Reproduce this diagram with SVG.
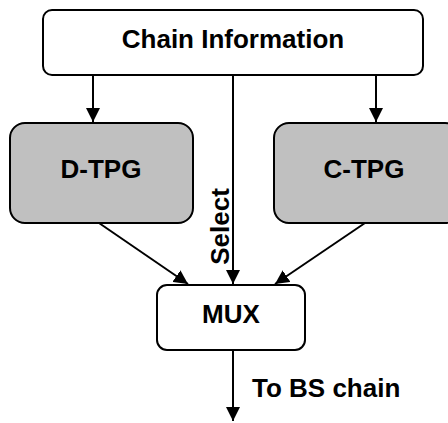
<svg xmlns="http://www.w3.org/2000/svg" width="448" height="423" viewBox="0 0 448 423">
<style>
.box{stroke:#000;stroke-width:2;}
.w{fill:#fff;}
.g{fill:#c0c0c0;}
.t{font-family:"Liberation Sans",Arial,sans-serif;font-weight:bold;font-size:26px;fill:#000;}
.c{stroke:#000;stroke-width:2;fill:none;marker-end:url(#ah);}
</style>
<defs>
<marker id="ah" markerUnits="userSpaceOnUse" markerWidth="14" markerHeight="14" viewBox="0 0 14 14" refX="14" refY="7" orient="auto">
<path d="M0,0 L14,7 L0,14 Z" fill="#000"/>
</marker>
</defs>
<rect width="448" height="423" fill="#fff"/>
<g id="connectors">
<line class="c" x1="93" y1="75" x2="93" y2="122"/>
<line class="c" x1="376" y1="75" x2="376" y2="122"/>
<line class="c" x1="233" y1="75" x2="233" y2="284"/>
<line class="c" x1="99" y1="223" x2="188" y2="284"/>
<line class="c" x1="365" y1="223" x2="275" y2="284"/>
<line class="c" x1="233" y1="350" x2="233" y2="421"/>
<text class="t" transform="translate(229,226.5) rotate(-90)" text-anchor="middle">Select</text>
<text class="t" x="252" y="397">To BS chain</text>
</g>
<g id="chain">
<rect class="box w" x="43" y="10" width="380" height="65" rx="9"/>
<text class="t" x="233" y="48" text-anchor="middle">Chain Information</text>
</g>
<g id="dtpg">
<rect class="box g" x="10" y="123" width="183" height="100" rx="15"/>
<text class="t" x="101" y="178" text-anchor="middle">D-TPG</text>
</g>
<g id="ctpg">
<rect class="box g" x="274" y="123" width="186" height="100" rx="15"/>
<text class="t" x="364" y="178" text-anchor="middle">C-TPG</text>
</g>
<g id="mux">
<rect class="box w" x="157" y="285" width="148" height="65" rx="10"/>
<text class="t" x="231" y="323" text-anchor="middle">MUX</text>
</g>
</svg>
